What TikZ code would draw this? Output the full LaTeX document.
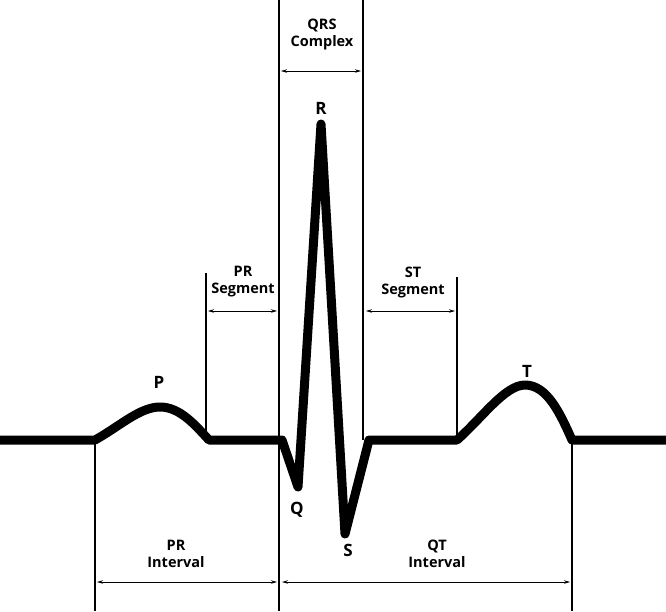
\documentclass[tikz,border=0pt]{standalone}
\usepackage{fontspec}
\setmainfont{Open Sans}
\usetikzlibrary{arrows.meta}
\begin{document}
\begin{tikzpicture}[x=1pt,y=-1pt,
  wave/.style={line width=9pt,line join=round,line cap=butt},
  vline/.style={line width=1.8pt},
  dim/.style={line width=0.8pt,{Stealth[length=6pt,width=3.5pt]}-{Stealth[length=6pt,width=3.5pt]}},
  lbl/.style={font=\fontsize{14.5}{17}\selectfont\bfseries,inner sep=0pt,align=center},
  wlbl/.style={font=\fontsize{17}{20}\selectfont\bfseries,inner sep=0pt}]
\useasboundingbox (0,0) rectangle (666,611);
% waveform points
\coordinate (w0) at (0,440);
\coordinate (pS) at (95,440);
\coordinate (pP) at (160,407);
\coordinate (pE) at (209,440);
\coordinate (qS) at (282,440);
\coordinate (qQ) at (298,487);
\coordinate (rR) at (321,124);
\coordinate (sS) at (345,534);
\coordinate (sE) at (369,440);
\coordinate (tS) at (457,440);
\coordinate (tT) at (525,385);
\coordinate (tE) at (572,440);
\coordinate (w1) at (666,440);
\draw[wave] (w0) -- (pS) .. controls (120,426) and (140,407) .. (pP)
  .. controls (180,407) and (195,425) .. (pE) -- (qS) -- (qQ) -- (rR) -- (sS) -- (sE) -- (tS)
  .. controls (482,418) and (505,385) .. (tT) .. controls (547,385) and (560,413) .. (tE) -- (w1);
% vertical guide lines
\coordinate (a1) at (95,440);   \coordinate (a2) at (95,611);
\coordinate (b1) at (206,273);  \coordinate (b2) at (206,432);
\coordinate (c1) at (279,0);    \coordinate (c2) at (279,611);
\coordinate (d1) at (363,0);    \coordinate (d2) at (363,440);
\coordinate (e1) at (457,277);  \coordinate (e2) at (457,440);
\coordinate (f1) at (572,440);  \coordinate (f2) at (572,611);
\draw[vline] (a1) -- (a2);
\draw[vline] (b1) -- (b2);
\draw[line width=2.2pt] (c1) -- (c2);
\draw[vline] (d1) -- (d2);
\draw[vline] (e1) -- (e2);
\draw[vline] (f1) -- (f2);
% dimension arrows
\coordinate (qrsL) at (281,71);  \coordinate (qrsR) at (361,71);
\coordinate (prsL) at (208,311); \coordinate (prsR) at (277,311);
\coordinate (stL) at (366,311);  \coordinate (stR) at (455,311);
\coordinate (priL) at (97,582);  \coordinate (priR) at (277,582);
\coordinate (qtL) at (282,582);  \coordinate (qtR) at (570,582);
\draw[dim] (qrsL) -- (qrsR);
\draw[dim] (prsL) -- (prsR);
\draw[dim] (stL) -- (stR);
\draw[dim] (priL) -- (priR);
\draw[dim] (qtL) -- (qtR);
% labels
\node[lbl] (lqrs) at (322,34) {QRS\\Complex};
\node[lbl] (lprs) at (243,282) {PR\\Segment};
\node[lbl] (lst) at (413,282) {ST\\Segment};
\node[lbl] (lpri) at (176,554) {PR\\Interval};
\node[lbl] (lqt) at (437,554) {QT\\Interval};
\node[wlbl] (lP) at (159,382) {P};
\node[wlbl] (lT) at (527,371) {T};
\node[wlbl] (lR) at (321,108) {R};
\node[wlbl] (lQ) at (297,510) {Q};
\node[wlbl] (lS) at (348,550) {S};
\end{tikzpicture}
\end{document}
